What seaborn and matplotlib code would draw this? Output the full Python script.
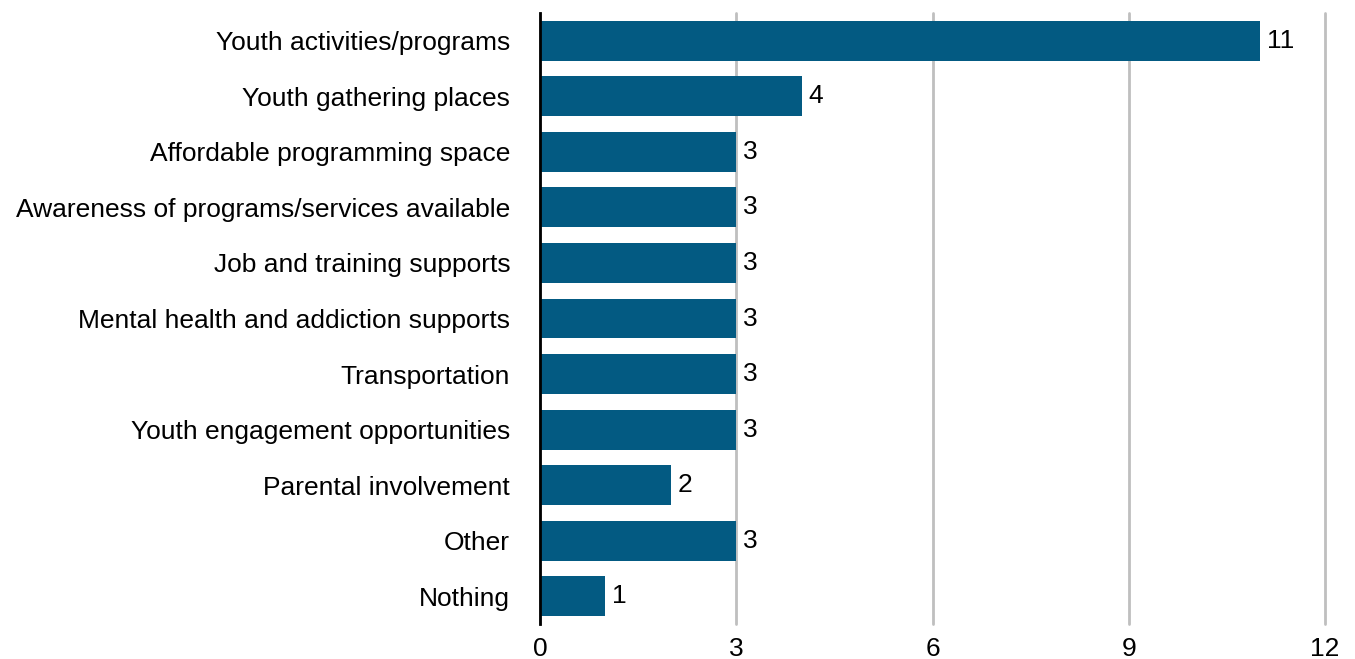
import matplotlib
matplotlib.use("Agg")
import matplotlib.pyplot as plt
import seaborn as sns
import pandas as pd

categories = [
    "Youth activities/programs",
    "Youth gathering places",
    "Affordable programming space",
    "Awareness of programs/services available",
    "Job and training supports",
    "Mental health and addiction supports",
    "Transportation",
    "Youth engagement opportunities",
    "Parental involvement",
    "Other",
    "Nothing",
]
values = [11, 4, 3, 3, 3, 3, 3, 3, 2, 3, 1]
xticks = [0, 3, 6, 9, 12]

sns.set_theme(style="white")
plt.rcParams['font.family'] = ['Liberation Sans', 'DejaVu Sans']

df = pd.DataFrame({"category": categories, "value": values})

fig = plt.figure(figsize=(13.55, 6.59), dpi=100)
ax = fig.add_axes([540/1355, 1 - 624/659, (1325-540)/1355, (624-13)/659])

sns.barplot(data=df, x="value", y="category", color="#035A82", width=0.72,
            saturation=1, ax=ax, orient="h", zorder=3, linewidth=0)

ax.set_xlim(0, 12)
ax.set_ylim(10.5, -0.5)
ax.set_xticks(xticks)
ax.set_xticklabels([str(t) for t in xticks])
ax.xaxis.grid(True, color="#BFBFBF", linewidth=2, zorder=0)
for gl in ax.get_xgridlines():
    gl.set_clip_on(False)
ax.yaxis.grid(False)
for s in ["top", "right", "bottom"]:
    ax.spines[s].set_visible(False)
ax.spines["left"].set_color("black")
ax.spines["left"].set_linewidth(2)
ax.spines["left"].set_zorder(5)
ax.tick_params(axis="both", length=0, labelsize=19, colors="black")
ax.tick_params(axis="y", pad=21.5)
ax.tick_params(axis="x", pad=9)
ax.set_xlabel("")
ax.set_ylabel("")

for c in ax.containers:
    ax.bar_label(c, labels=[str(v) for v in values], padding=5, fontsize=19, color="black")

fig.savefig("out.png", dpi=100)
